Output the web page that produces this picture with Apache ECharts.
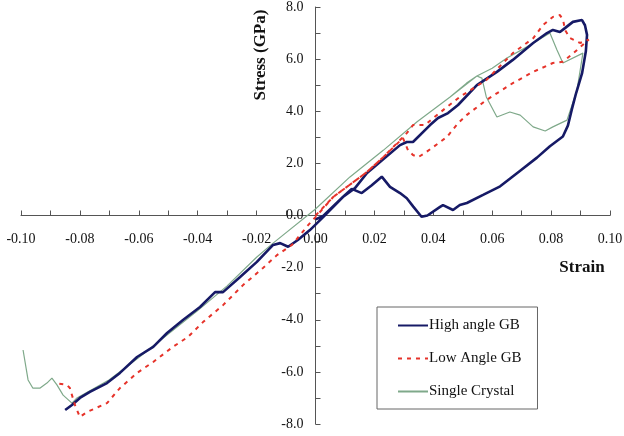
<!DOCTYPE html>
<html>
<head>
<meta charset="utf-8">
<script src="https://cdn.jsdelivr.net/npm/echarts@6/dist/echarts.min.js"></script>
<style>
html,body{margin:0;padding:0;background:#fff;}
#chart{width:624px;height:436px;}
</style>
</head>
<body>
<div id="chart"></div>
<script>
var seriesNames = ['High angle GB', 'Low Angle GB', 'Single Crystal'];
var xAxisTitle = 'Strain';
var yAxisTitle = 'Stress (GPa)';

// High angle GB: [strain, stress] path in loading order
var highAngleStrain = [0.000, 0.0026, 0.0093, 0.0123, 0.0157, 0.019, 0.0225, 0.0253, 0.0287, 0.031, 0.0332, 0.036, 0.038, 0.0423, 0.0433, 0.0467, 0.049, 0.0514, 0.0569, 0.0627, 0.0695, 0.0752, 0.0796, 0.084, 0.0857, 0.087, 0.0885, 0.0905, 0.0918, 0.0922, 0.0915, 0.0905, 0.0874, 0.0847, 0.083, 0.0806, 0.0786, 0.0739, 0.067, 0.0616, 0.0548, 0.0484, 0.045, 0.0416, 0.0389, 0.0331, 0.031, 0.0287, 0.0219, 0.0175, 0.0134, 0.0093, 0.0026, -0.0019, -0.006, -0.0093, -0.012, -0.0144, -0.0199, -0.0256, -0.0314, -0.0341, -0.0392, -0.045, -0.0504, -0.0551, -0.0606, -0.0664, -0.0708, -0.0766, -0.080, -0.0827, -0.085];
var highAngleStress = [-0.15, -0.02, 0.71, 1.02, 0.86, 1.15, 1.49, 1.10, 0.86, 0.66, 0.34, -0.05, 0.00, 0.33, 0.40, 0.21, 0.40, 0.48, 0.79, 1.12, 1.72, 2.22, 2.66, 3.03, 3.45, 4.05, 4.70, 5.45, 6.30, 6.93, 7.30, 7.50, 7.43, 7.19, 7.04, 7.12, 7.00, 6.62, 5.97, 5.51, 5.00, 4.24, 3.93, 3.74, 3.47, 2.82, 2.82, 2.70, 2.05, 1.63, 1.05, 0.71, -0.06, -0.56, -0.94, -1.20, -1.06, -1.13, -1.78, -2.36, -2.94, -2.94, -3.51, -4.01, -4.51, -5.04, -5.43, -6.04, -6.43, -6.77, -7.00, -7.27, -7.46];

// Low Angle GB
var lowAngleStrain = [0.000, 0.006, 0.0175, 0.023, 0.0297, 0.0314, 0.0331, 0.0349, 0.0372, 0.040, 0.0446, 0.0484, 0.0513, 0.058, 0.067, 0.0739, 0.0806, 0.084, 0.0876, 0.0908, 0.0928, 0.0925, 0.0898, 0.0864, 0.0847, 0.0841, 0.083, 0.0806, 0.0773, 0.0739, 0.067, 0.058, 0.049, 0.0446, 0.040, 0.0372, 0.0331, 0.031, 0.023, 0.0175, 0.006, 0.000, -0.0025, -0.008, -0.0131, -0.0178, -0.0246, -0.0314, -0.0382, -0.0433, -0.0484, -0.0551, -0.0606, -0.0664, -0.0708, -0.0776, -0.080, -0.0817, -0.0834, -0.0844, -0.0885];
var lowAngleStress = [0.00, 0.71, 1.67, 2.24, 2.97, 2.51, 2.32, 2.24, 2.40, 2.63, 3.01, 3.54, 3.85, 4.43, 5.08, 5.51, 5.85, 5.90, 6.23, 6.55, 6.75, 6.81, 6.62, 6.81, 7.12, 7.50, 7.69, 7.62, 7.31, 6.80, 6.23, 5.20, 4.55, 4.16, 3.74, 3.47, 3.47, 3.16, 2.24, 1.67, 0.71, -0.06, -0.37, -1.13, -1.52, -2.01, -2.67, -3.44, -4.09, -4.66, -5.04, -5.62, -6.04, -6.62, -7.20, -7.54, -7.73, -7.27, -6.62, -6.50, -6.43];

// Single Crystal
var singleStrain = [0.000, 0.0117, 0.023, 0.0345, 0.0457, 0.0513, 0.0548, 0.0565, 0.058, 0.0616, 0.066, 0.0695, 0.0739, 0.078, 0.0806, 0.0854, 0.0888, 0.0908, 0.084, 0.082, 0.0796, 0.0718, 0.065, 0.0600, 0.0548, 0.0457, 0.0345, 0.023, 0.0117, 0.000, -0.0144, -0.020, -0.030, -0.040, -0.050, -0.060, -0.070, -0.081, -0.0827, -0.0857, -0.0878, -0.0895, -0.0912, -0.0935, -0.096, -0.0976, -0.0993];
var singleStress = [0.25, 1.48, 2.50, 3.60, 4.55, 5.08, 5.35, 5.27, 4.55, 3.78, 3.97, 3.85, 3.40, 3.24, 3.40, 3.66, 4.82, 6.23, 5.85, 6.35, 7.00, 6.47, 6.04, 5.65, 5.35, 4.55, 3.60, 2.50, 1.48, 0.25, -1.06, -1.60, -2.70, -3.65, -4.55, -5.45, -6.30, -7.00, -7.20, -6.89, -6.50, -6.24, -6.43, -6.62, -6.62, -6.31, -5.16];

function pairs(xs, ys) { return xs.map(function (x, i) { return [x, ys[i]]; }); }

var serif = '"Liberation Serif", "Times New Roman", serif';
var W = 624, H = 436, GL = 21, GR = 14, GT = 7, GB = 12;
var gridW = W - GL - GR, gridH = H - GT - GB;
var chart = echarts.init(document.getElementById('chart'), null, {renderer: 'canvas'});
chart.setOption({
  animation: false,
  backgroundColor: '#ffffff',
  grid: {left: GL, right: GR, top: GT, bottom: GB, containLabel: false, outerBoundsMode: 'none'},
  xAxis: {
    type: 'value', min: -0.10, max: 0.10, interval: 0.01,
    offset: -gridH / 2,
    axisLine: {onZero: false, lineStyle: {color: '#555', width: 1}},
    axisTick: {inside: true, length: 5, lineStyle: {color: '#555'}},
    splitLine: {show: false},
    axisLabel: {
      margin: 17, color: '#111', fontFamily: serif, fontSize: 14,
      formatter: function (v) { var k = Math.round(v * 100); return k % 2 === 0 ? (k / 100).toFixed(2) : ''; }
    }
  },
  yAxis: {
    type: 'value', min: -8, max: 8, interval: 1,
    offset: -gridW / 2,
    axisLine: {onZero: false, lineStyle: {color: '#555', width: 1}},
    axisTick: {inside: true, length: 5, lineStyle: {color: '#555'}},
    splitLine: {show: false},
    axisLabel: {
      margin: 12, color: '#111', fontFamily: serif, fontSize: 14,
      formatter: function (v) { var k = Math.round(v); return k % 2 === 0 ? k.toFixed(1) : ''; }
    }
  },
  legend: {
    orient: 'vertical', left: 377, top: 307,
    padding: [11, 16, 10, 20],
    itemWidth: 30, itemHeight: 14, itemGap: 18,
    borderColor: '#666', borderWidth: 1,
    backgroundColor: '#fff',
    itemStyle: {opacity: 0},
    textStyle: {fontFamily: serif, fontSize: 15, color: '#111', padding: [0, 0, 0, -4]},
    data: seriesNames
  },
  graphic: [
    {type: 'text', x: 261, y: 55, rotation: Math.PI / 2,
     style: {text: yAxisTitle, font: 'bold 17px ' + serif, fill: '#111', align: 'center', verticalAlign: 'middle'}},
    {type: 'text', x: 582, y: 268,
     style: {text: xAxisTitle, font: 'bold 17px ' + serif, fill: '#111', align: 'center', verticalAlign: 'middle'}}
  ],
  series: [
    {name: seriesNames[2], type: 'line', data: pairs(singleStrain, singleStress), showSymbol: false, symbol: 'none',
     lineStyle: {color: '#7fa98a', width: 1.2}, itemStyle: {color: '#7fa98a'}, z: 2},
    {name: seriesNames[0], type: 'line', data: pairs(highAngleStrain, highAngleStress), showSymbol: false, symbol: 'none',
     lineStyle: {color: '#161a66', width: 2.6}, itemStyle: {color: '#161a66'}, z: 3},
    {name: seriesNames[1], type: 'line', data: pairs(lowAngleStrain, lowAngleStress), showSymbol: false, symbol: 'none',
     lineStyle: {color: '#e6332a', width: 2, type: [4, 5]}, itemStyle: {color: '#e6332a'}, z: 4}
  ]
});
</script>
</body>
</html>
